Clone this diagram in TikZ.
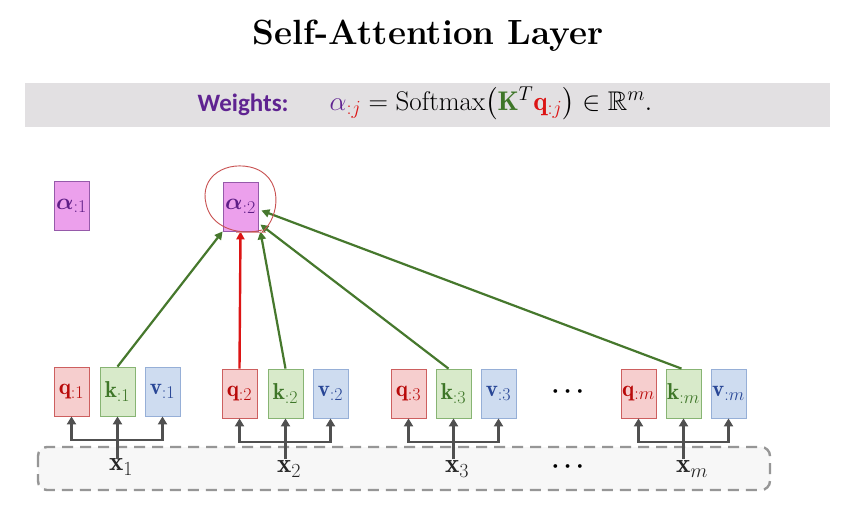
\RequirePackage{fix-cm}
\documentclass[tikz,border=0pt]{standalone}
\usepackage{fontspec}
\usepackage{amsmath,amssymb,bm}
\newfontfamily\wfont{Carlito}
\usetikzlibrary{arrows.meta,calc}
\DeclareMathSizes{23}{23}{18}{14}
\DeclareMathSizes{27}{27}{20}{15}
\newcommand\dn[1]{\raisebox{-4pt}{#1}}
\definecolor{qfill}{RGB}{246,206,206}
\definecolor{qdraw}{RGB}{205,95,95}
\definecolor{qtext}{RGB}{185,10,10}
\definecolor{kfill}{RGB}{216,234,202}
\definecolor{kdraw}{RGB}{135,180,115}
\definecolor{ktext}{RGB}{62,118,40}
\definecolor{vfill}{RGB}{206,220,240}
\definecolor{vdraw}{RGB}{150,175,215}
\definecolor{vtext}{RGB}{40,70,150}
\definecolor{afill}{RGB}{236,160,236}
\definecolor{adraw}{RGB}{150,90,170}
\definecolor{atext}{RGB}{95,30,135}
\definecolor{band}{RGB}{226,224,226}
\definecolor{arrgray}{RGB}{80,80,80}
\definecolor{dashgray}{RGB}{150,150,150}
\definecolor{garrow}{RGB}{70,120,45}
\definecolor{rarrow}{RGB}{220,20,20}
\definecolor{circred}{RGB}{200,80,80}
\definecolor{wpurple}{RGB}{95,35,145}
\begin{document}
\begin{tikzpicture}[x=1pt,y=-1pt,
  box/.style={minimum width=35pt,minimum height=49pt,inner sep=0pt,line width=0.8pt,font=\fontsize{23}{25}\selectfont},
  qbox/.style={box,fill=qfill,draw=qdraw,text=qtext},
  kbox/.style={box,fill=kfill,draw=kdraw,text=ktext},
  vbox/.style={box,fill=vfill,draw=vdraw,text=vtext},
  abox/.style={box,fill=afill,draw=adraw,text=atext},
  xlab/.style={inner sep=1pt,font=\fontsize{27}{30}\selectfont,text=black!85},
  xarr/.style={draw=arrgray,line width=2.6pt,-{Triangle[length=8pt,width=9pt]}},
  garr/.style={draw=garrow,line width=2.2pt,-{Triangle[length=8pt,width=8pt]}},
  rarr/.style={draw=rarrow,line width=2.4pt,-{Triangle[length=8pt,width=8pt]}},
  dots/.style={font=\fontsize{24}{26}\selectfont\boldmath}
]
\useasboundingbox (0,0) rectangle (857,504);
\fill[white] (0,0) rectangle (857,504);
% title
\node[font=\fontsize{35}{40}\selectfont\bfseries] (title) at (428,36) {Self-Attention Layer};
% band
\fill[band] (25,83) rectangle (830,127);
\node[anchor=west,font=\fontsize{25}{28}\selectfont\wfont\bfseries,text=wpurple] (w) at (194,105) {Weights:};
\node[anchor=west,font=\fontsize{27}{30}\selectfont] (f) at (326,103)
 {$\textcolor{wpurple}{\alpha}_{\textcolor{rarrow}{:j}}=\mathrm{Softmax}\bigl(\textcolor{ktext}{\mathbf{K}}^{T}\textcolor{rarrow}{\mathbf{q}_{:j}}\bigr)\in\mathbb{R}^{m}.$};
% dashed input container
\draw[dashgray,fill=black!3,line width=2.4pt,dash pattern=on 11pt off 7pt,rounded corners=9pt] (38,447) rectangle (770,490);
% alpha boxes
\node[abox] (a1) at (71.5,206) {\raisebox{-2pt}{$\bm{\alpha}_{:1}$}};
\node[abox] (a2) at (240.5,206.5) {\raisebox{-2pt}{$\bm{\alpha}_{:2}$}};
% q k v
\node[qbox] (q1) at (71.5,391.5) {\dn{$\mathbf{q}_{:1}$}};
\node[kbox] (k1) at (117.5,391.5) {\dn{$\mathbf{k}_{:1}$}};
\node[vbox] (v1) at (162.5,391.5) {\dn{$\mathbf{v}_{:1}$}};
\node[qbox] (q2) at (239.5,393.5) {\dn{$\mathbf{q}_{:2}$}};
\node[kbox] (k2) at (285.5,393.5) {\dn{$\mathbf{k}_{:2}$}};
\node[vbox] (v2) at (330.5,393.5) {\dn{$\mathbf{v}_{:2}$}};
\node[qbox] (q3) at (408.5,393.5) {\dn{$\mathbf{q}_{:3}$}};
\node[kbox] (k3) at (453.5,393.5) {\dn{$\mathbf{k}_{:3}$}};
\node[vbox] (v3) at (498.5,393.5) {\dn{$\mathbf{v}_{:3}$}};
\node[qbox] (qm) at (638.5,393.5) {\dn{$\mathbf{q}_{:m}$}};
\node[kbox] (km) at (683.5,393.5) {\dn{$\mathbf{k}_{:m}$}};
\node[vbox] (vm) at (728.5,393.5) {\dn{$\mathbf{v}_{:m}$}};
\node[dots] (d1) at (570,392) {$\cdots$};
\node[dots] (d2) at (570,467) {$\cdots$};
% x labels
\node[xlab] (x1) at (121,467) {$\mathbf{x}_1$};
\node[xlab] (x2) at (289,469) {$\mathbf{x}_2$};
\node[xlab] (x3) at (457,469) {$\mathbf{x}_3$};
\node[xlab] (xm) at (692,469) {$\mathbf{x}_m$};
% projection arrows
\foreach \x/\q/\k/\v/\y in {x1/q1/k1/v1/440, x2/q2/k2/v2/442, x3/q3/k3/v3/442, xm/qm/km/vm/442}{
  \coordinate (b\x) at (\k.south |- 0,\y);
  \draw[xarr] (b\x) -| (\q.south);
  \draw[xarr] (b\x) -| (\v.south);
  \draw[xarr] (\k.south |- 0,459) -- (\k.south);
}
% attention arrows
\draw[garr] (k1.north) -- (a2.south west);
\draw[rarr] (q2.north) -- (a2.south);
\draw[garr] (k2.north) -- ($(a2.south east)+(2,0)$);
\draw[garr] ($(k3.north)+(-5,0)$) -- ($(a2.east)+(2,18)$);
\draw[garr] ($(km.north)+(-2,0)$) -- ($(a2.east)+(3,4)$);
% hand-drawn circle
\draw[circred,line width=0.9pt] (262,232) .. controls (280,218) and (285,175) .. (250,167)
  .. controls (222,161) and (196,180) .. (208,210)
  .. controls (215,228) and (240,236) .. (262,230);
\draw[circred!60,line width=0.9pt] (236,232) -- (266,232);
\end{tikzpicture}
\end{document}
